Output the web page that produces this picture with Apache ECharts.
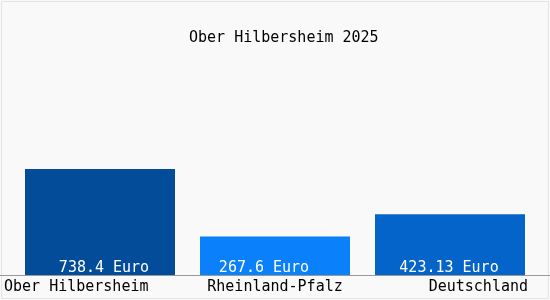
<!DOCTYPE html>
<html>
<head>
<meta charset="utf-8">
<script src="https://cdn.jsdelivr.net/npm/echarts@6/dist/echarts.min.js"></script>
<style>
  html, body { margin: 0; padding: 0; background: #f9f9f9; }
  #chart { width: 550px; height: 300px; }
</style>
</head>
<body>
<div id="chart"></div>
<script>
    var titleText = 'Ober Hilbersheim 2025';
    var categories = ['Ober Hilbersheim', 'Rheinland-Pfalz', 'Deutschland'];
    var values = [738.4, 267.6, 423.13];
    var valueLabels = ['738.4 Euro', '267.6 Euro', '423.13 Euro'];
    var barColors = ['#034c9a', '#0a80fb', '#0564ca'];
    var labelShift = [4, -11, -1]; // beschriftung sitzt im original nicht ganz mittig

    var monoFont = '"DejaVu Sans Mono", "Liberation Mono", monospace';
    var chart = echarts.init(document.getElementById('chart'));

    var option = {
        animation: false,
        backgroundColor: '#f9f9f9',
        title: {
            text: titleText,
            left: 189,
            top: 31,
            padding: 0,
            textStyle: { fontFamily: monoFont, fontSize: 15, fontWeight: 'normal', color: '#000' }
        },
        grid: { left: 12.5, right: 12.5, top: 50, bottom: 25 },
        xAxis: {
            type: 'category',
            data: categories,
            axisLine: { show: false },
            axisTick: { show: false },
            axisLabel: { show: false }
        },
        yAxis: {
            type: 'value',
            min: 0,
            max: 1567,
            show: false
        },
        series: [{
            type: 'bar',
            barWidth: 150,
            data: values.map(function (v, i) {
                return {
                    value: v,
                    itemStyle: { color: barColors[i] },
                    label: { offset: [labelShift[i], 2] }
                };
            }),
            label: {
                show: true,
                position: 'insideBottom',
                distance: 1,
                color: '#fff',
                fontFamily: monoFont,
                fontSize: 15,
                formatter: function (p) { return valueLabels[p.dataIndex]; }
            }
        }],
        graphic: [
            // rahmen
            { type: 'rect', shape: { x: 1.5, y: 1.5, width: 547, height: 297 },
              style: { fill: 'none', stroke: '#e4e4e4', lineWidth: 1 } },
            // x-achse
            { type: 'line', shape: { x1: 0, y1: 275.5, x2: 550, y2: 275.5 },
              style: { stroke: '#999', lineWidth: 1 } },
            { type: 'text', left: 4, top: 280,
              style: { text: categories[0], font: '15px ' + monoFont, fill: '#000' } },
            { type: 'text', left: 'center', top: 280,
              style: { text: categories[1], font: '15px ' + monoFont, fill: '#000' } },
            { type: 'text', right: 22, top: 280,
              style: { text: categories[2], font: '15px ' + monoFont, fill: '#000' } }
        ]
    };
    chart.setOption(option);
</script>
</body>
</html>
